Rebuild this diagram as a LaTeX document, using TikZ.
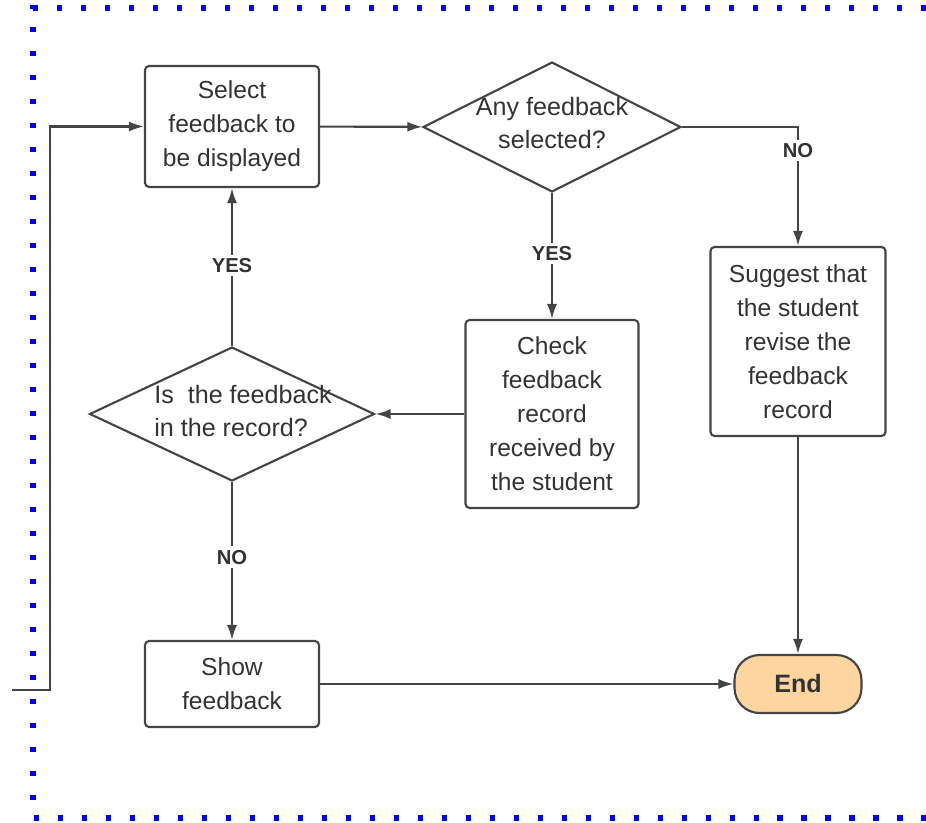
\documentclass[tikz,border=0pt]{standalone}
\usepackage{fontspec}
\setmainfont{Liberation Sans}
\usepackage{tikz}
\usetikzlibrary{calc,shapes,arrows.meta}
\definecolor{ink}{HTML}{333333}
\definecolor{edge}{HTML}{444444}
\definecolor{endfill}{HTML}{FCD5A0}
\tikzset{
  box/.style={draw=edge, line width=1.2pt, rounded corners=0.08cm, fill=white,
    text=ink, align=center, font=\fontsize{14}{19.3}\selectfont, inner sep=2pt},
  decision/.style={diamond, draw=edge, line width=1.2pt, fill=white, inner sep=0pt},
  qtext/.style={text=ink, align=center, font=\fontsize{14.3}{19.3}\selectfont},
  term/.style={draw=edge, line width=1.2pt, rounded corners=0.5cm, fill=endfill,
    text=ink, font=\bfseries\fontsize{14.3}{17}\selectfont,
    minimum width=2.54cm, minimum height=1.16cm},
  arr/.style={draw=edge, line width=1.2pt, -{Latex[length=0.3cm,width=0.2cm]}},
  lbl/.style={fill=white, text=ink, font=\bfseries\fontsize{11.5}{13}\selectfont,
    inner sep=2pt}
}
\begin{document}
\begin{tikzpicture}[x=0.02cm, y=-0.02cm]
    \useasboundingbox (0,0) rectangle (926,822);
    \draw[blue, line width=0.11cm, dash pattern=on 0.11cm off 0.37cm]
        (926,8) -- (33,8) -- (33,818) -- (926,818);

    \node[box, minimum width=3.48cm, minimum height=2.42cm] (sel) at (232,126.5)
        {Select\\ feedback to\\ be displayed};
    \node[decision, minimum width=5.16cm, minimum height=2.6cm] (q1) at (552,127) {};
    \node[qtext] (q1txt) at (552,123) {Any feedback\\ selected?};
    \node[box, minimum width=3.5cm, minimum height=3.78cm] (sug) at (798,341.5)
        {Suggest that\\ the student\\ revise the\\ feedback\\ record};
    \node[box, minimum width=3.46cm, minimum height=3.76cm] (chk) at (552,414)
        {Check\\ feedback\\ record\\ received by\\ the student};
    \node[decision, minimum width=5.7cm, minimum height=2.68cm] (q2) at (232,414) {};
    \node[qtext, align=left] (q2txt) at (243,411) {Is\ \ the feedback\\ in the record?};
    \node[box, minimum width=3.48cm, minimum height=1.72cm] (show) at (232,684)
        {Show\\ feedback};
    \node[term] (end) at (798,684) {End};

    \coordinate (loopin) at (12,690);
    \coordinate (loopup) at (50,690);

    \draw[arr] (sel) -- (q1);
    \draw[arr] (q1.east) -| node[lbl, pos=0.6] {NO} (sug.north);
    \draw[arr] (q1.south) -- node[lbl, pos=0.48] {YES} (chk.north);
    \draw[arr] (chk.west) -- (q2.east);
    \draw[arr] (q2.north) -- node[lbl, pos=0.51] {YES} (sel.south);
    \draw[arr] (q2.south) -- node[lbl, pos=0.475] {NO} (show.north);
    \draw[arr] (show) -- (end);
    \draw[arr] (sug) -- (end);
    \draw[arr] (loopin) -- (loopup) |- (sel.west);
\end{tikzpicture}
\end{document}
